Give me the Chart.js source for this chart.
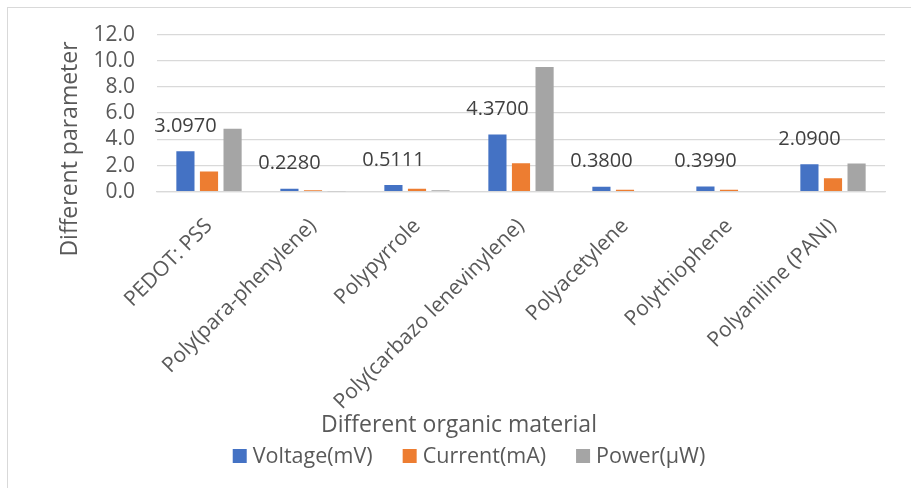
<!DOCTYPE html>
<html>
<head>
<meta charset="utf-8">
<script src="https://cdn.jsdelivr.net/npm/chart.js@4/dist/chart.umd.min.js"></script>
<style>
  html, body { margin: 0; padding: 0; background: #ffffff; }
  #wrap { position: relative; width: 911px; height: 488px; }
</style>
</head>
<body>
<div id="wrap"><canvas id="c" width="911" height="488"></canvas></div>
<script>
// ---- data ----
const categories = [
  "PEDOT: PSS",
  "Poly(para-phenylene)",
  "Polypyrrole",
  "Poly(carbazo lenevinylene)",
  "Polyacetylene",
  "Polythiophene",
  "Polyaniline (PANI)"
];
const voltage = [3.097, 0.228, 0.5111, 4.37, 0.38, 0.399, 2.09];
const current = [1.55, 0.12, 0.23, 2.18, 0.15, 0.15, 1.03];
const power   = [4.8, 0.027, 0.118, 9.53, 0.057, 0.06, 2.16];
const seriesNames = ["Voltage(mV)", "Current(mA)", "Power(\u00B5W)"];
const yMin = 0, yMax = 12, yStep = 2;
const xTitle = "Different organic material";
const yTitle = "Different parameter";

const FONT = "'Open Sans', sans-serif";
const TXT = "#595959";

const extras = {
  id: 'extras',
  beforeDraw(chart) {
    const ctx = chart.ctx;
    ctx.save();
    ctx.strokeStyle = '#d9d9d9';
    ctx.lineWidth = 1;
    ctx.strokeRect(7.5, 7.5, 1000, 1000);
    ctx.restore();
  },
  afterDatasetsDraw(chart) {
    const ctx = chart.ctx;
    ctx.save();
    const meta = chart.getDatasetMeta(0);
    ctx.font = "20px " + FONT;
    ctx.fillStyle = "#404040";
    ctx.textAlign = "center";
    ctx.textBaseline = "middle";
    meta.data.forEach((bar, i) => {
      ctx.fillText(voltage[i].toFixed(4), bar.x, bar.y - 25);
    });
    ctx.font = "23px " + FONT;
    ctx.fillStyle = TXT;
    ctx.save();
    ctx.translate(70, 149);
    ctx.rotate(-Math.PI / 2);
    ctx.fillText(yTitle, 0, 0);
    ctx.restore();
    ctx.fillText(xTitle, 459, 425);
    ctx.font = "21.5px " + FONT;
    const box = 14, gap = 6, space = 30;
    const ds = chart.data.datasets;
    const widths = ds.map(d => ctx.measureText(d.label).width);
    const total = widths.reduce((a, w) => a + box + gap + w, 0) + space * (ds.length - 1);
    let x = 469 - total / 2;
    const cy = 456;
    ctx.textAlign = "left";
    ds.forEach((d, i) => {
      ctx.fillStyle = d.backgroundColor;
      ctx.fillRect(x, cy - box / 2, box, box);
      ctx.fillStyle = TXT;
      ctx.fillText(d.label, x + box + gap, cy + 1);
      x += box + gap + widths[i] + space;
    });
    ctx.restore();
  }
};

new Chart(document.getElementById('c'), {
  type: 'bar',
  data: {
    labels: categories,
    datasets: [
      { label: seriesNames[0], data: voltage, backgroundColor: '#4472C4' },
      { label: seriesNames[1], data: current, backgroundColor: '#ED7D31' },
      { label: seriesNames[2], data: power, backgroundColor: '#A5A5A5' }
    ]
  },
  options: {
    responsive: false,
    animation: false,
    devicePixelRatio: 1,
    layout: { padding: { left: 0, right: 26, top: 32.7, bottom: 0 } },
    datasets: { bar: { categoryPercentage: 0.68, barPercentage: 0.77 } },
    plugins: { legend: { display: false }, tooltip: { enabled: false } },
    scales: {
      x: {
        grid: { display: false, drawTicks: false },
        border: { display: true, color: '#d9d9d9', width: 1.3 },
        ticks: {
          autoSkip: false, maxRotation: 45, minRotation: 45, padding: 22,
          color: TXT, font: { family: FONT, size: 21 }
        },
        afterFit(s) { s.height = 488 - 191.7; }
      },
      y: {
        min: yMin, max: yMax,
        grid: { color: '#d9d9d9', lineWidth: 1.3, drawTicks: false },
        border: { display: false },
        ticks: {
          stepSize: yStep, autoSkip: false,
          padding: 22, color: TXT, font: { family: FONT, size: 21 },
          callback: v => Number(v).toFixed(1)
        },
        afterFit(s) { s.width = 157; }
      }
    }
  },
  plugins: [extras]
});
</script>
</body>
</html>
